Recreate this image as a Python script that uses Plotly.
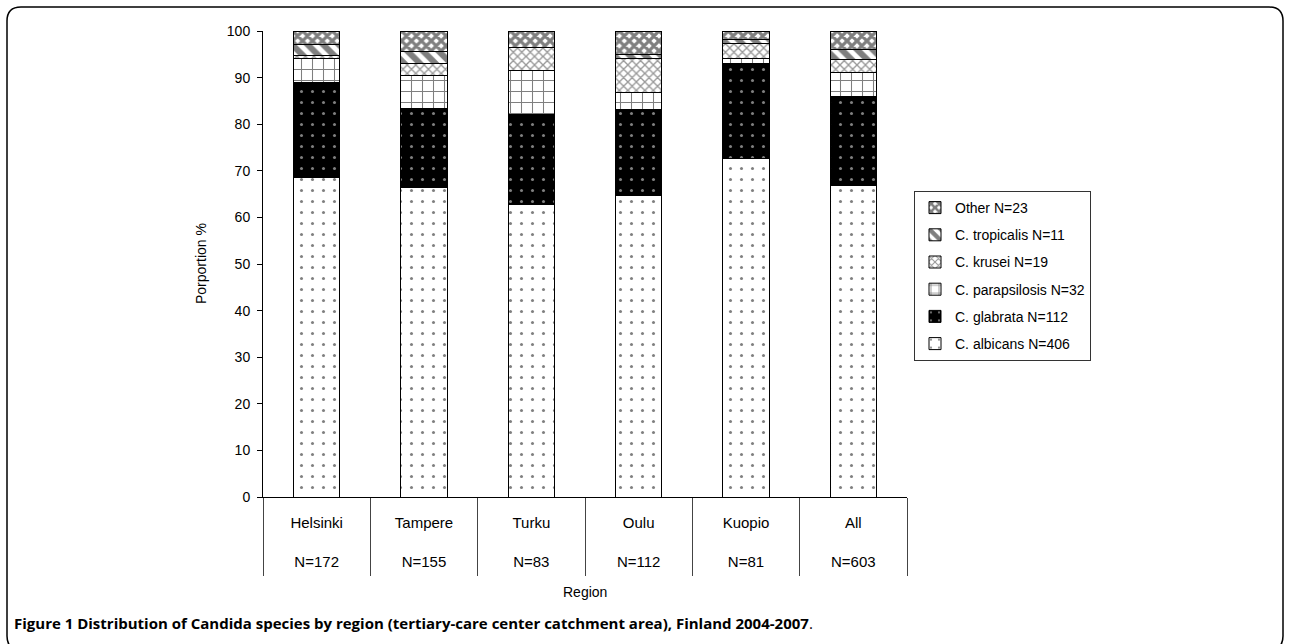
import plotly.graph_objects as go

# ---------------- data ----------------
regions = ["Helsinki", "Tampere", "Turku", "Oulu", "Kuopio", "All"]
region_n = ["N=172", "N=155", "N=83", "N=112", "N=81", "N=603"]

series_names = ["C. albicans N=406", "C. glabrata N=112", "C. parapsilosis N=32",
                "C. krusei N=19", "C. tropicalis N=11", "Other N=23"]
albicans = [68.6, 66.5, 62.7, 64.8, 72.6, 66.8]
glabrata = [20.3, 16.8, 19.3, 18.4, 20.4, 19.1]
parapsilosis = [5.2, 7.1, 9.6, 3.6, 1.1, 5.3]
krusei = [0.6, 2.6, 4.8, 7.3, 3.3, 2.7]
tropicalis = [2.3, 2.6, 0.0, 0.9, 0.7, 2.2]
other = [3.0, 4.4, 3.6, 5.0, 1.9, 3.9]

y_ticks = [0, 10, 20, 30, 40, 50, 60, 70, 80, 90, 100]
y_title = "Porportion %"
x_title = "Region"
caption = ("<b>Figure 1 Distribution of Candida species by region "
           "(tertiary-care center catchment area), Finland 2004-2007</b>.")

# ---------------- styles ----------------
W, H = 1289, 644
L, R, T, B = 263, 907, 31, 497  # plot area in pixels

styles = [
    dict(color="white", pattern=dict(shape=".", fgcolor="black", bgcolor="white", size=11, solidity=0.06)),
    dict(color="black", pattern=dict(shape=".", fgcolor="white", bgcolor="black", size=11, solidity=0.06)),
    dict(color="white", pattern=dict(shape="+", fgcolor="black", bgcolor="white", size=11, solidity=0.18)),
    dict(color="white", pattern=dict(shape="x", fgcolor="#333333", bgcolor="white", size=6, solidity=0.4)),
    dict(color="white", pattern=dict(shape="\\", fgcolor="black", bgcolor="white", size=11, solidity=0.55)),
    dict(color="white", pattern=dict(shape="x", fgcolor="black", bgcolor="white", size=7, solidity=0.7)),
]
values = [albicans, glabrata, parapsilosis, krusei, tropicalis, other]

fig = go.Figure()
n_series = len(series_names)
for i, (name, vals, st) in enumerate(zip(series_names, values, styles)):
    fig.add_trace(go.Bar(
        x=regions, y=vals, name=name, legendgroup=name, legendrank=n_series - i,
        marker=dict(color=st["color"], pattern=st["pattern"],
                    line=dict(color="black", width=1)),
    ))

# helper trace on an overlaid axis whose boundary ticks act as category dividers
idx = list(range(len(regions)))
fig.add_trace(go.Scatter(x=idx, y=[0] * len(idx), xaxis="x2", mode="none",
                         showlegend=False, hoverinfo="skip"))
boundaries = [i - 0.5 for i in idx] + [len(idx) - 0.5]


def px_x(X):
    return (X - L) / (R - L)


def px_y(Y):
    return (B - Y) / (B - T)


# outer rounded frame
x0, x1, y0, y1, r = 7, 1283, 7, 650, 14
path = (f"M {px_x(x0)},{px_y(y0 + r)} Q {px_x(x0)},{px_y(y0)} {px_x(x0 + r)},{px_y(y0)} "
        f"L {px_x(x1 - r)},{px_y(y0)} Q {px_x(x1)},{px_y(y0)} {px_x(x1)},{px_y(y0 + r)} "
        f"L {px_x(x1)},{px_y(y1 - r)} Q {px_x(x1)},{px_y(y1)} {px_x(x1 - r)},{px_y(y1)} "
        f"L {px_x(x0 + r)},{px_y(y1)} Q {px_x(x0)},{px_y(y1)} {px_x(x0)},{px_y(y1 - r)} Z")

font = "Liberation Sans, Arial, sans-serif"
fig.update_layout(
    width=W, height=H,
    margin=dict(l=L, r=W - R, t=T, b=H - B, autoexpand=False),
    barmode="stack", bargap=0.57,
    plot_bgcolor="white", paper_bgcolor="white",
    font=dict(family=font, size=14, color="black"),
    showlegend=True,
    legend=dict(traceorder="grouped", x=px_x(914), y=px_y(191), xanchor="left",
                yanchor="top", bordercolor="#333333", borderwidth=1,
                font=dict(size=14, family=font), tracegroupgap=6, itemwidth=30,
                bgcolor="white"),
    xaxis=dict(type="category", showline=True, linecolor="black", linewidth=1,
               tickvals=regions,
               ticktext=[f"{a}<br> <br>{b}" for a, b in zip(regions, region_n)],
               ticks="", tickfont=dict(size=15, family=font), showgrid=False,
               ticklabelstandoff=12, range=[-0.5, len(regions) - 0.5]),
    xaxis2=dict(overlaying="x", anchor="y", side="bottom", range=[-0.5, len(regions) - 0.5],
                tickvals=boundaries, ticks="outside", ticklen=78, tickcolor="#444444",
                tickwidth=1, showticklabels=False, showline=False, showgrid=False,
                zeroline=False),
    yaxis=dict(range=[0, 100], tickvals=y_ticks, showline=True, linecolor="black", linewidth=1,
               ticks="outside", ticklen=5, tickcolor="black", showgrid=False, zeroline=False,
               tickfont=dict(size=14, family=font), ticklabelstandoff=4),
    shapes=[dict(type="path", xref="paper", yref="paper", path=path,
                 line=dict(color="black", width=1.5), layer="below")],
    annotations=[
        dict(text=y_title, xref="paper", yref="paper", x=px_x(201), y=px_y(264), textangle=-90,
             showarrow=False, font=dict(size=14, family=font), xanchor="center", yanchor="middle"),
        dict(text=x_title, xref="paper", yref="paper", x=px_x(585), y=px_y(592),
             showarrow=False, font=dict(size=14, family=font), xanchor="center", yanchor="middle"),
        dict(text=caption, xref="paper", yref="paper", x=px_x(12), y=px_y(623),
             showarrow=False, font=dict(size=15, family="Open Sans, sans-serif", color="black"),
             xanchor="left", yanchor="middle"),
    ],
)

fig.write_html("out.html", config={"displayModeBar": False},
               post_script="document.body.style.margin='0';")
